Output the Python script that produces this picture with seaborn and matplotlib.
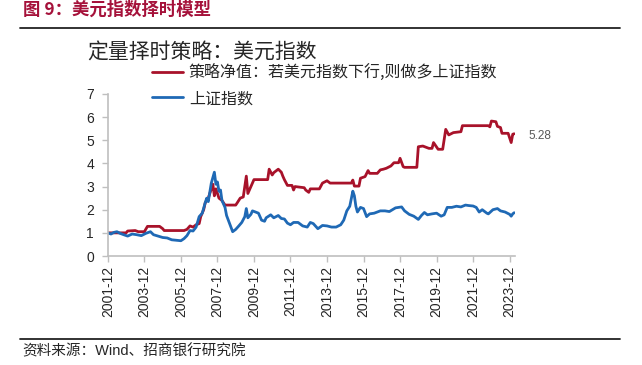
import pandas as pd
import seaborn as sns
import matplotlib.pyplot as plt
import matplotlib.dates as mdates
from matplotlib.lines import Line2D

# -------------------------------
# Data (net value, 2001-12 = 1)
# -------------------------------
sh_dates = ["2001-12", "2002-02", "2002-04", "2002-06", "2002-08", "2002-10", "2003-01", "2003-04",
            "2003-07", "2003-10", "2004-01", "2004-04", "2004-06", "2004-09", "2004-12", "2005-03",
            "2005-06", "2005-09", "2005-12", "2006-02", "2006-04", "2006-06", "2006-08", "2006-10",
            "2006-12", "2007-02", "2007-04", "2007-05", "2007-06", "2007-08", "2007-10", "2007-11",
            "2007-12", "2008-01", "2008-02", "2008-03", "2008-05", "2008-06", "2008-08", "2008-10",
            "2008-12", "2009-02", "2009-04", "2009-06", "2009-07", "2009-08", "2009-10", "2009-11",
            "2010-01", "2010-03", "2010-05", "2010-07", "2010-08", "2010-11", "2011-01", "2011-04",
            "2011-06", "2011-08", "2011-10", "2011-12", "2012-02", "2012-05", "2012-08", "2012-11",
            "2013-01", "2013-03", "2013-06", "2013-09", "2013-12", "2014-03", "2014-06", "2014-09",
            "2014-11", "2015-01", "2015-03", "2015-05", "2015-06", "2015-07", "2015-08", "2015-10",
            "2015-12", "2016-02", "2016-04", "2016-07", "2016-11", "2017-02", "2017-05", "2017-09",
            "2018-01", "2018-03", "2018-06", "2018-09", "2018-12", "2019-02", "2019-04", "2019-06",
            "2019-09", "2019-12", "2020-03", "2020-05", "2020-07", "2020-10", "2021-01", "2021-04",
            "2021-07", "2021-09", "2021-12", "2022-02", "2022-04", "2022-06", "2022-09", "2022-10",
            "2023-01", "2023-04", "2023-06", "2023-09", "2023-12", "2024-01", "2024-02", "2024-03"]
sh_values = [1.00, 0.95, 1.02, 1.05, 0.98, 0.93, 0.86, 0.95,
             0.92, 0.88, 0.98, 1.05, 0.92, 0.86, 0.80, 0.78,
             0.70, 0.68, 0.66, 0.75, 0.88, 1.10, 1.08, 1.25,
             1.70, 1.85, 2.30, 2.50, 2.35, 3.15, 3.62, 3.10,
             3.20, 2.80, 2.85, 2.40, 2.10, 1.75, 1.40, 1.05,
             1.15, 1.30, 1.45, 1.70, 2.05, 1.65, 1.80, 1.95,
             1.90, 1.85, 1.55, 1.50, 1.65, 1.78, 1.65, 1.75,
             1.62, 1.60, 1.42, 1.35, 1.45, 1.45, 1.30, 1.25,
             1.45, 1.40, 1.18, 1.32, 1.30, 1.25, 1.25, 1.35,
             1.55, 1.95, 2.15, 2.80, 2.60, 2.15, 1.90, 2.10,
             2.05, 1.70, 1.82, 1.85, 1.95, 1.95, 1.92, 2.08,
             2.12, 1.95, 1.80, 1.72, 1.58, 1.75, 1.88, 1.78,
             1.82, 1.85, 1.72, 1.78, 2.10, 2.10, 2.15, 2.12,
             2.20, 2.18, 2.16, 2.10, 1.90, 2.00, 1.85, 1.82,
             2.00, 2.05, 1.95, 1.90, 1.80, 1.72, 1.82, 1.87]

st_dates = ["2001-12", "2002-12", "2003-01", "2003-06", "2003-08", "2003-12", "2004-02", "2004-10",
            "2004-12", "2005-01", "2006-02", "2006-04", "2006-06", "2006-08", "2006-10", "2006-12",
            "2007-01", "2007-03", "2007-04", "2007-06", "2007-08", "2007-09", "2007-10", "2007-11",
            "2008-01", "2008-03", "2008-05", "2008-12", "2009-01", "2009-03", "2009-05", "2009-07",
            "2009-08", "2009-10", "2009-12", "2010-09", "2010-10", "2010-12", "2011-01", "2011-04",
            "2011-06", "2011-07", "2011-08", "2011-10", "2012-01", "2012-02", "2012-03", "2012-09",
            "2012-10", "2012-12", "2013-01", "2013-07", "2013-09", "2013-12", "2014-02", "2015-04",
            "2015-05", "2015-06", "2015-09", "2015-10", "2016-01", "2016-03", "2016-04", "2016-09",
            "2016-11", "2017-01", "2017-03", "2017-06", "2017-08", "2017-11", "2017-12", "2018-02",
            "2018-03", "2018-11", "2018-12", "2019-03", "2019-07", "2019-09", "2019-10", "2020-01",
            "2020-04", "2020-06", "2020-08", "2020-11", "2021-04", "2021-05", "2022-10", "2022-11",
            "2022-12", "2023-03", "2023-04", "2023-06", "2023-07", "2023-11", "2024-01", "2024-02",
            "2024-03"]
st_values = [1.00, 1.00, 1.08, 1.10, 1.05, 1.05, 1.28, 1.28,
             1.18, 1.10, 1.10, 1.15, 1.30, 1.25, 1.35, 1.40,
             1.70, 2.00, 2.30, 2.50, 2.90, 3.10, 2.60, 2.90,
             2.50, 2.40, 2.20, 2.20, 2.30, 2.50, 2.55, 3.45,
             2.70, 3.00, 3.30, 3.30, 3.75, 3.50, 3.60, 3.75,
             3.62, 3.45, 3.30, 3.05, 3.05, 2.85, 3.00, 2.95,
             2.85, 2.75, 2.90, 2.90, 3.15, 3.25, 3.15, 3.15,
             3.28, 3.02, 3.02, 3.36, 3.43, 3.69, 3.57, 3.57,
             3.72, 3.75, 3.79, 3.89, 4.03, 4.03, 4.22, 3.86,
             3.83, 3.83, 4.72, 4.75, 4.65, 4.65, 4.90, 4.61,
             4.61, 5.47, 5.23, 5.33, 5.37, 5.63, 5.63, 5.58,
             5.83, 5.80, 5.60, 5.55, 5.30, 5.30, 4.90, 5.26,
             5.28]

label_strategy = "策略净值：若美元指数下行,则做多上证指数"
label_index = "上证指数"
last_value = "5.28"

df_sh = pd.DataFrame({"date": pd.to_datetime(sh_dates, format="%Y-%m"), "value": sh_values})
df_st = pd.DataFrame({"date": pd.to_datetime(st_dates, format="%Y-%m"), "value": st_values})

# -------------------------------
# Style
# -------------------------------
sns.set_theme(style="white")
plt.rcParams['font.family'] = ['Liberation Sans', 'Noto Sans CJK SC', 'DejaVu Sans']
cjk = ['Noto Sans CJK SC', 'DejaVu Sans']
red = "#A8122A"
blue = "#1F69B5"
grey = "#BFBFBF"

fig = plt.figure(figsize=(6.42, 3.65), dpi=100)
ax = fig.add_axes([0.168, 0.2986, 0.634, 0.444])

sns.lineplot(data=df_st, x="date", y="value", color=red, linewidth=2, ax=ax)
sns.lineplot(data=df_sh, x="date", y="value", color=blue, linewidth=2, ax=ax)

ax.set_xlim(pd.Timestamp("2001-12-01"), pd.Timestamp("2024-03-15"))
ax.set_ylim(0, 7)
ax.set_yticks(range(0, 8))
ax.set_xticks(pd.date_range("2001-12-01", "2023-12-01", freq="24MS"))
ax.xaxis.set_major_formatter(mdates.DateFormatter("%Y-%m"))
ax.set_xlabel("")
ax.set_ylabel("")
ax.tick_params(axis='x', rotation=90, labelsize=10, length=4, width=1, color=grey, pad=3, bottom=True)
ax.tick_params(axis='y', labelsize=10, length=4, width=1, color=grey, pad=6, left=True)
for side in ["top", "right"]:
    ax.spines[side].set_visible(False)
for side in ["left", "bottom"]:
    ax.spines[side].set_color(grey)
    ax.spines[side].set_linewidth(1.2)

# end value annotation
ax.annotate(last_value, xy=(df_st["date"].iloc[-1], st_values[-1]), xytext=(10, -1.5),
            textcoords="offset points", va="center", ha="left", fontsize=8.5, color="#595959")

# legend
handles = [Line2D([], [], color=red, linewidth=2), Line2D([], [], color=blue, linewidth=2)]
fig.legend(handles, [label_strategy, label_index], loc="upper left", bbox_to_anchor=(0.2368, 0.824),
           frameon=False, prop={'family': cjk, 'size': 11.5}, handlelength=1.95, handletextpad=0.35,
           labelspacing=0.55, borderpad=0, borderaxespad=0)

# titles, rules and source
fig.text(0.1355, 0.855, "定量择时策略：美元指数", fontsize=15, family=cjk, va="center", ha="left")
fig.text(0.036, 0.972, "图 9：美元指数择时模型", fontsize=12.5, family=cjk, fontweight="bold",
         color="#A5113A", va="center", ha="left")
fig.add_artist(Line2D([0.031, 0.966], [1 - 28 / 365, 1 - 28 / 365], color="#222222", linewidth=1.3))
fig.add_artist(Line2D([0.031, 0.966], [1 - 339 / 365, 1 - 339 / 365], color="#222222", linewidth=1.3))
fig.text(0.034, 1 - 351 / 365, "资料来源：Wind、招商银行研究院", fontsize=10.5,
         family=['Liberation Sans', 'Noto Sans CJK SC'], va="center", ha="left")

plt.savefig("out.png", dpi=100)
